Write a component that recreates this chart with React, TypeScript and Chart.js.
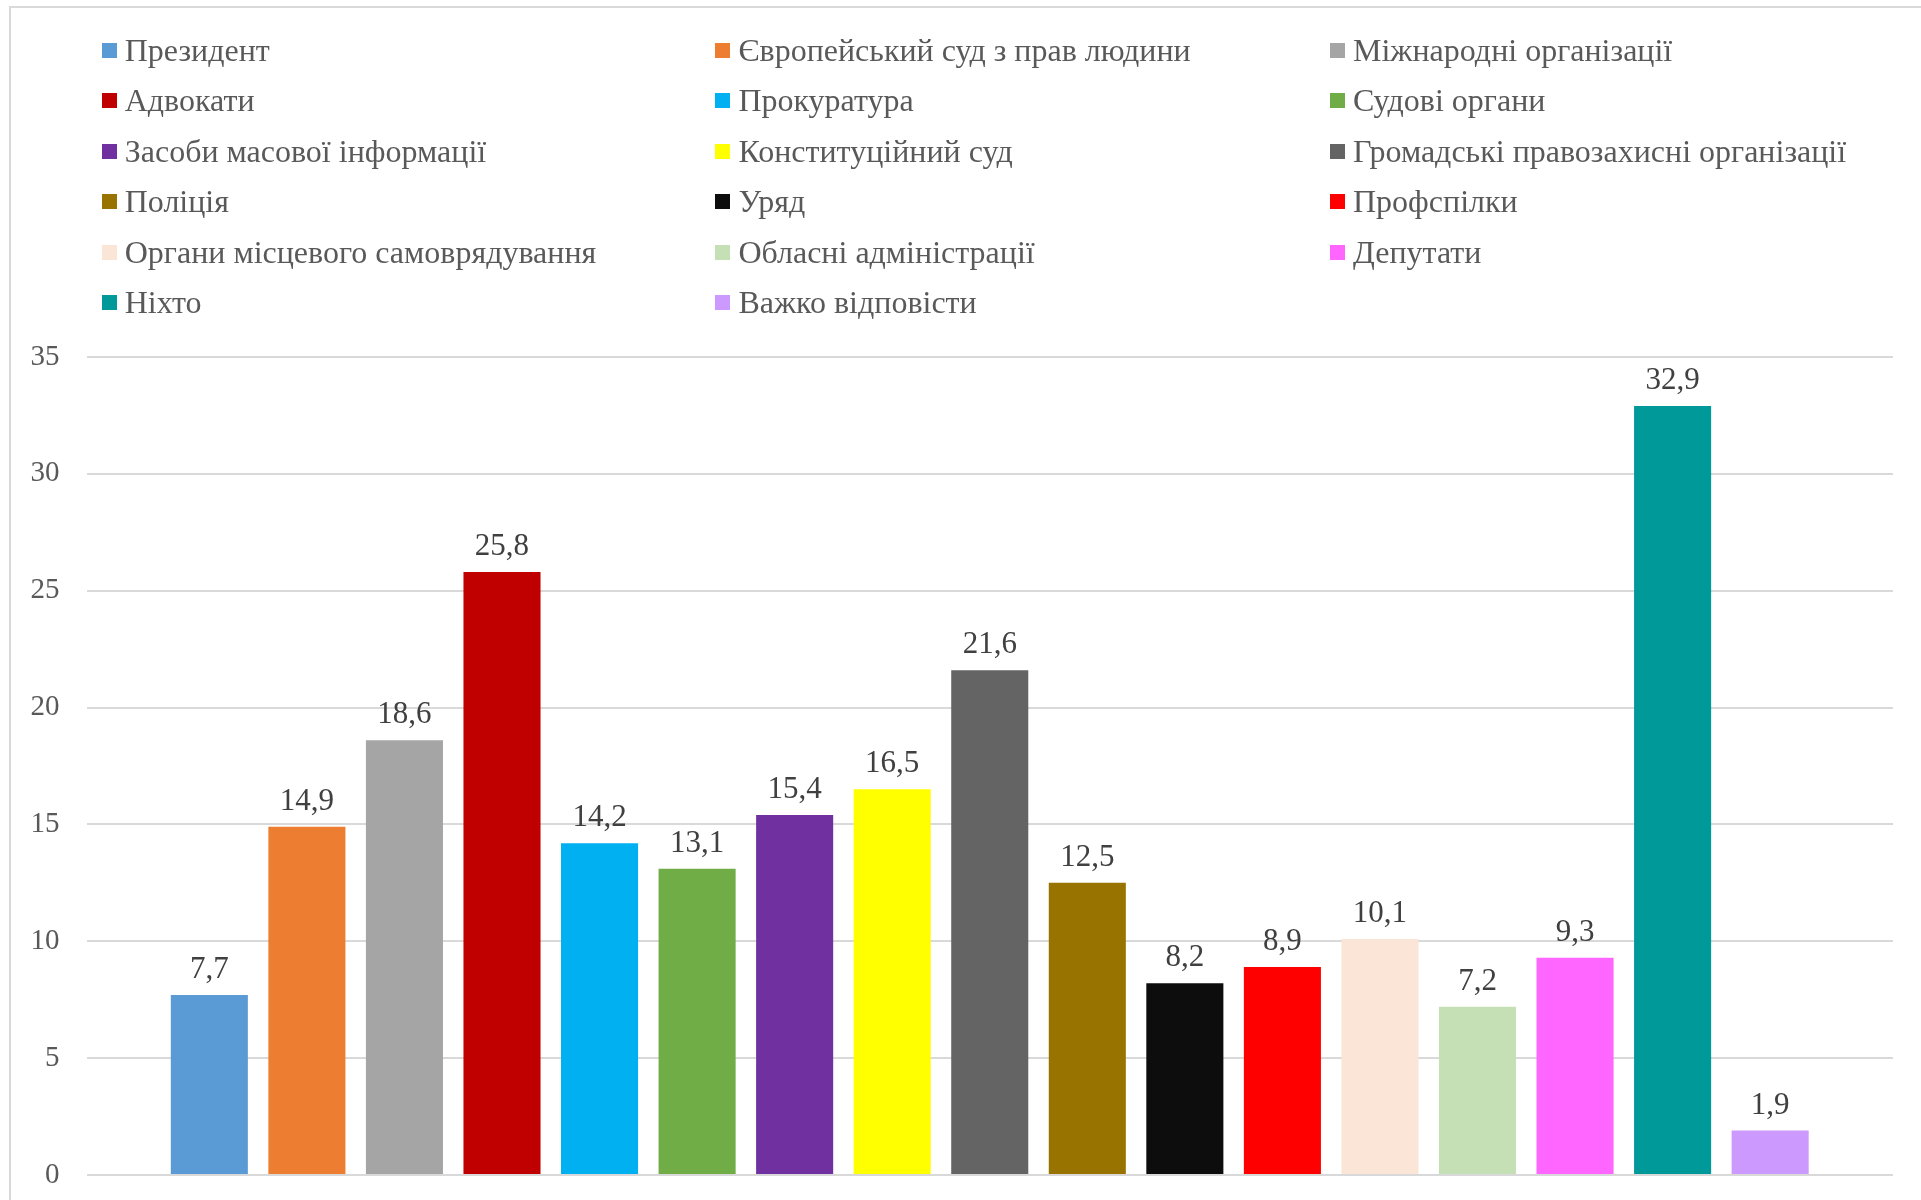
import React, { useEffect, useRef } from "react";
import { Chart, registerables } from "chart.js";

Chart.register(...registerables);

const seriesNames: string[] = [
  "Президент",
  "Європейський суд з прав людини",
  "Міжнародні організації",
  "Адвокати",
  "Прокуратура",
  "Судові органи",
  "Засоби масової інформації",
  "Конституційний суд",
  "Громадські правозахисні організації",
  "Поліція",
  "Уряд",
  "Профспілки",
  "Органи місцевого самоврядування",
  "Обласні адміністрації",
  "Депутати",
  "Ніхто",
  "Важко відповісти",
];

const seriesValues: number[] = [
  7.7, 14.9, 18.6, 25.8, 14.2, 13.1, 15.4, 16.5, 21.6, 12.5, 8.2, 8.9, 10.1, 7.2, 9.3, 32.9, 1.9,
];

const seriesColors: string[] = [
  "#5B9BD5",
  "#ED7D31",
  "#A5A5A5",
  "#C00000",
  "#00B0F0",
  "#70AD47",
  "#7030A0",
  "#FFFF00",
  "#646464",
  "#997300",
  "#0D0D0D",
  "#FF0000",
  "#FBE5D6",
  "#C5E0B4",
  "#FF66FF",
  "#009999",
  "#CC99FF",
];

const yMin = 0;
const yMax = 35;
const yStep = 5;

const FONT = "'Liberation Serif', 'DejaVu Serif', 'Noto Serif', serif";

const valueLabelPlugin = {
  id: "valueLabels",
  afterDatasetsDraw(chart: any) {
    const ctx = chart.ctx;
    ctx.save();
    ctx.font = `31px ${FONT}`;
    ctx.fillStyle = "#404040";
    ctx.textAlign = "center";
    ctx.textBaseline = "alphabetic";
    chart.data.datasets.forEach((ds: any, i: number) => {
      const meta = chart.getDatasetMeta(i);
      meta.data.forEach((el: any, j: number) => {
        const v = ds.data[j] as number;
        const txt = v.toFixed(1).replace(".", ",");
        ctx.fillText(txt, el.x, el.y - 17);
      });
    });
    ctx.restore();
  },
};

function App() {
  const canvasRef = useRef<HTMLCanvasElement | null>(null);

  useEffect(() => {
    if (!canvasRef.current) return;
    const chart = new Chart(canvasRef.current, {
      type: "bar",
      data: {
        labels: [""],
        datasets: seriesNames.map((name, i) => ({
          label: name,
          data: [seriesValues[i]],
          backgroundColor: seriesColors[i],
          borderWidth: 0,
          categoryPercentage: 0.918,
          barPercentage: 0.79,
        })),
      },
      options: {
        responsive: false,
        animation: false,
        layout: { padding: { left: 0, top: 357, right: 28, bottom: 25 } },
        plugins: {
          legend: { display: false },
          tooltip: { enabled: false },
        },
        scales: {
          x: { display: false },
          y: {
            min: yMin,
            max: yMax,
            ticks: {
              stepSize: yStep,
              color: "#595959",
              font: { family: FONT, size: 29 },
              padding: 27,
            },
            grid: { color: "#D9D9D9", lineWidth: 2, drawTicks: false },
            border: { display: false },
            afterFit: (s: any) => {
              s.width = 86.5;
              s.paddingTop = 0;
              s.paddingBottom = 0;
            },
          },
        },
      },
      plugins: [valueLabelPlugin],
    } as any);
    return () => chart.destroy();
  }, []);

  const colX = [101.7, 715.4, 1330];
  const rowY0 = 50;
  const rowStep = 50.5;

  return (
    <div
      style={{
        position: "fixed",
        left: 0,
        top: 0,
        width: 1921,
        height: 1200,
        overflow: "hidden",
        background: "#fff",
      }}
    >
      <div
        style={{
          position: "absolute",
          left: 9,
          top: 6,
          width: 2200,
          height: 2200,
          border: "2px solid #D9D9D9",
        }}
      />
      <canvas
        ref={canvasRef}
        width={1921}
        height={1200}
        style={{ position: "absolute", left: 0, top: 0, display: "block" }}
      />
      {seriesNames.map((name, i) => {
        const col = i % 3;
        const row = Math.floor(i / 3);
        return (
          <div
            key={name}
            style={{
              position: "absolute",
              left: colX[col],
              top: rowY0 + rowStep * row - 25,
              height: 50,
              display: "flex",
              alignItems: "center",
              whiteSpace: "nowrap",
            }}
          >
            <span
              style={{
                display: "inline-block",
                width: 15,
                height: 15,
                background: seriesColors[i],
              }}
            />
            <span
              style={{
                marginLeft: 8,
                fontFamily: FONT,
                fontSize: 32,
                lineHeight: "normal",
                color: "#595959",
              }}
            >
              {name}
            </span>
          </div>
        );
      })}
    </div>
  );
}

export default App;
